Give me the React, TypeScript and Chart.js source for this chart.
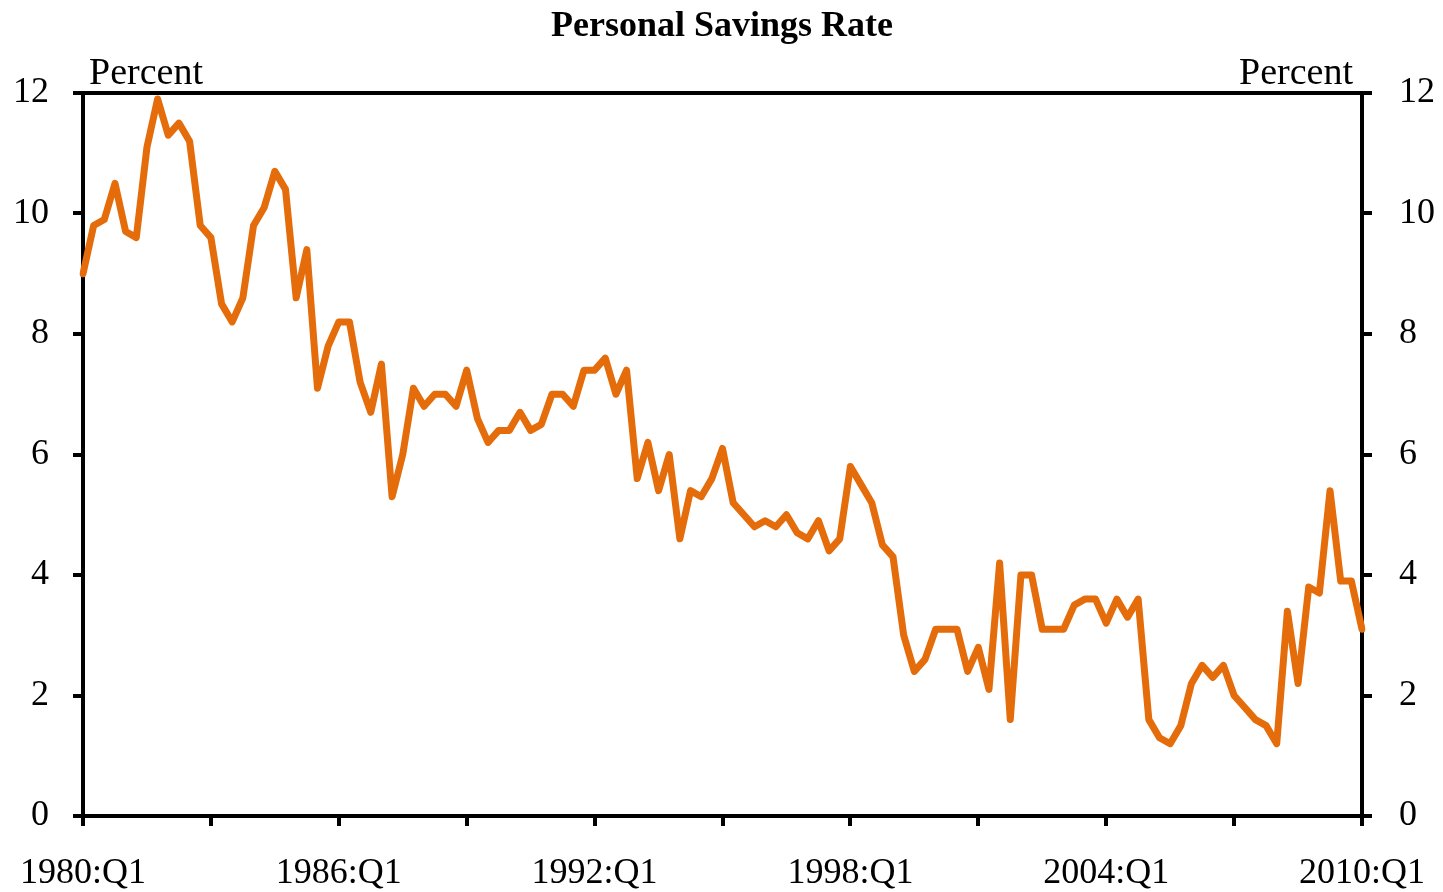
import React, { useEffect, useRef } from "react";
import { Chart, registerables } from "chart.js";

Chart.register(...registerables);

const years: number[] = [
  1980, 1981, 1982, 1983, 1984, 1985, 1986, 1987, 1988, 1989,
  1990, 1991, 1992, 1993, 1994, 1995, 1996, 1997, 1998, 1999,
  2000, 2001, 2002, 2003, 2004, 2005, 2006, 2007, 2008, 2009, 2010,
];

const savingsRate: number[] = [
  9.0, 9.8, 9.9, 10.5,
  9.7, 9.6, 11.1, 11.9,
  11.3, 11.5, 11.2, 9.8,
  9.6, 8.5, 8.2, 8.6,
  9.8, 10.1, 10.7, 10.4,
  8.6, 9.4, 7.1, 7.8,
  8.2, 8.2, 7.2, 6.7,
  7.5, 5.3, 6.0, 7.1,
  6.8, 7.0, 7.0, 6.8,
  7.4, 6.6, 6.2, 6.4,
  6.4, 6.7, 6.4, 6.5,
  7.0, 7.0, 6.8, 7.4,
  7.4, 7.6, 7.0, 7.4,
  5.6, 6.2, 5.4, 6.0,
  4.6, 5.4, 5.3, 5.6,
  6.1, 5.2, 5.0, 4.8,
  4.9, 4.8, 5.0, 4.7,
  4.6, 4.9, 4.4, 4.6,
  5.8, 5.5, 5.2, 4.5,
  4.3, 3.0, 2.4, 2.6,
  3.1, 3.1, 3.1, 2.4,
  2.8, 2.1, 4.2, 1.6,
  4.0, 4.0, 3.1, 3.1,
  3.1, 3.5, 3.6, 3.6,
  3.2, 3.6, 3.3, 3.6,
  1.6, 1.3, 1.2, 1.5,
  2.2, 2.5, 2.3, 2.5,
  2.0, 1.8, 1.6, 1.5,
  1.2, 3.4, 2.2, 3.8,
  3.7, 5.4, 3.9, 3.9,
  3.1,
];

const quarterLabels: string[] = [];
years.forEach((y) => {
  for (let q = 1; q <= 4; q++) {
    if (quarterLabels.length < savingsRate.length) quarterLabels.push(`${y}:Q${q}`);
  }
});

const titleText = "Personal Savings Rate";
const unitText = "Percent";
const yTickValues: number[] = [0, 2, 4, 6, 8, 10, 12];

const FONT = '"Liberation Serif", "Times New Roman", serif';
const LINE_COLOR = "#E46C0A";

const decorPlugin = {
  id: "decor",
  afterDraw(chart: any) {
    const { ctx, chartArea } = chart;
    ctx.save();
    ctx.strokeStyle = "#000";
    ctx.lineWidth = 4;
    ctx.beginPath();
    ctx.moveTo(chartArea.left - 2, chartArea.top);
    ctx.lineTo(chartArea.right + 2, chartArea.top);
    ctx.stroke();

    ctx.fillStyle = "#000";
    ctx.textBaseline = "alphabetic";
    ctx.font = `bold 36px ${FONT}`;
    ctx.textAlign = "center";
    ctx.fillText(titleText, 722, 36);

    ctx.font = `38px ${FONT}`;
    ctx.textAlign = "left";
    ctx.fillText(unitText, 89, 84);
    ctx.textAlign = "right";
    ctx.fillText(unitText, 1353, 84);
    ctx.restore();
  },
};

export default function App() {
  const ref = useRef<HTMLCanvasElement | null>(null);

  useEffect(() => {
    if (!ref.current) return;
    const tickColor = (c: any) => (c.index % 12 === 0 ? "#000" : "rgba(0,0,0,0)");
    const yGrid = {
      drawOnChartArea: false,
      drawTicks: true,
      tickLength: 10,
      lineWidth: 4,
      color: "#000",
    };
    const chart = new Chart(ref.current, {
      type: "line",
      data: {
        labels: quarterLabels,
        datasets: [
          {
            data: savingsRate,
            borderColor: LINE_COLOR,
            backgroundColor: LINE_COLOR,
            borderWidth: 7,
            pointRadius: 0,
            tension: 0,
            borderJoinStyle: "round",
            borderCapStyle: "round",
            fill: false,
          },
        ],
      },
      options: {
        responsive: false,
        animation: false,
        devicePixelRatio: 1,
        layout: { padding: { top: 93, left: 0, right: 0, bottom: 0 } },
        plugins: {
          legend: { display: false },
          tooltip: { enabled: false },
          title: { display: false },
        },
        scales: {
          x: {
            type: "category",
            offset: false,
            afterFit: (s: any) => {
              s.height = 76;
              s.paddingLeft = 0;
              s.paddingRight = 0;
            },
            grid: {
              drawOnChartArea: false,
              drawTicks: true,
              tickLength: 10,
              lineWidth: 4,
              color: tickColor,
            },
            border: { display: true, color: "#000", width: 4 },
            ticks: {
              autoSkip: false,
              maxRotation: 0,
              minRotation: 0,
              padding: 26,
              color: "#000",
              font: { family: FONT, size: 36 },
              callback: (_v: any, i: number) => (i % 24 === 0 ? quarterLabels[i] : ""),
            },
          },
          y: {
            position: "left",
            min: 0,
            max: 12,
            afterFit: (s: any) => {
              s.width = 83;
            },
            afterBuildTicks: (s: any) => {
              s.ticks = yTickValues.map((v) => ({ value: v }));
            },
            grid: yGrid,
            border: { display: true, color: "#000", width: 4 },
            ticks: {
              padding: 24,
              color: "#000",
              font: { family: FONT, size: 36 },
            },
          },
          y2: {
            position: "right",
            min: 0,
            max: 12,
            afterFit: (s: any) => {
              s.width = 81;
            },
            afterBuildTicks: (s: any) => {
              s.ticks = yTickValues.map((v) => ({ value: v }));
            },
            grid: yGrid,
            border: { display: true, color: "#000", width: 4 },
            ticks: {
              padding: 27,
              color: "#000",
              font: { family: FONT, size: 36 },
            },
          },
        },
      },
      plugins: [decorPlugin],
    } as any);
    return () => chart.destroy();
  }, []);

  return (
    <div style={{ position: "fixed", left: 0, top: 0, width: 1443, height: 892, background: "#fff" }}>
      <canvas ref={ref} width={1443} height={892} style={{ display: "block", width: 1443, height: 892 }} />
    </div>
  );
}
